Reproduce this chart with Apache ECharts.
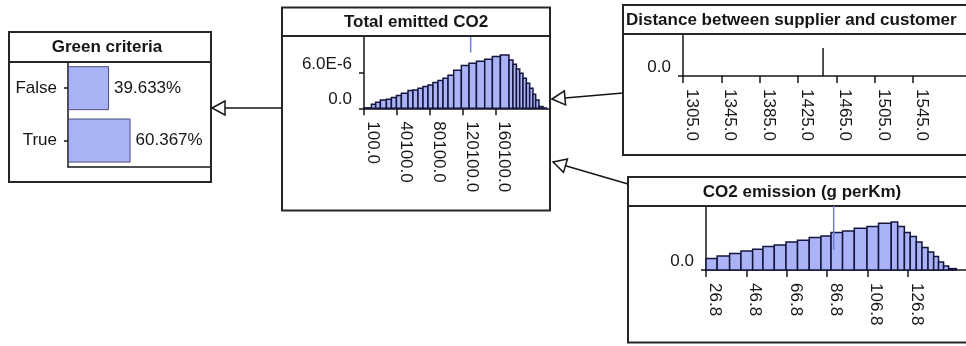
<!DOCTYPE html>
<html>
<head>
<meta charset="utf-8">
<script src="https://cdn.jsdelivr.net/npm/echarts@6/dist/echarts.min.js"></script>
<style>
  html, body { margin: 0; padding: 0; background: #fff; }
  #main { width: 966px; height: 346px; }
</style>
</head>
<body>
<div id="main"></div>
<script>
// ---- Green criteria (discrete node) ----
const greenStates = ['False', 'True'];
const greenPercent = [39.633, 60.367];

// ---- Total emitted CO2 (continuous node, histogram bins) ----
const totalCo2Edges = [100, 9100, 14300, 20000, 27300, 33400, 39500, 45500, 53600, 59600,
  65700, 71800, 77900, 83900, 90000, 96100, 102200, 109100, 118400, 127700,
  136700, 146800, 156100, 165800, 176300, 181100, 185300, 189300, 193300, 197400,
  201400, 205400, 208700, 212700, 217600, 221700];
const totalCo2Density = [0.08e-6, 0.67e-6, 1.01e-6, 1.40e-6, 1.52e-6, 1.80e-6, 2.14e-6, 2.53e-6, 2.98e-6, 3.08e-6,
  3.37e-6, 3.66e-6, 3.93e-6, 4.33e-6, 4.67e-6, 5.06e-6, 5.56e-6, 6.40e-6, 7.20e-6, 7.58e-6,
  7.92e-6, 8.26e-6, 8.71e-6, 8.98e-6, 8.14e-6, 7.41e-6, 6.62e-6, 5.90e-6, 5.06e-6, 4.21e-6,
  3.37e-6, 2.36e-6, 1.40e-6, 0.29e-6, 0.05e-6];
const totalCo2Ticks = [100, 40100, 80100, 120100, 160100];
const totalCo2DensityTicks = [0, 6e-6];
const totalCo2Mean = 129700;

// ---- Distance between supplier and customer (single value) ----
const distanceTicks = [1305, 1345, 1385, 1425, 1465, 1505, 1545];
const distanceValue = 1451;
const distanceMass = 0.68;

// ---- CO2 emission (g perKm) ----
const co2KmEdges = [26.8, 32.3, 38.5, 44.1, 49.9, 55.0, 60.6, 66.4, 72.1, 77.9,
  83.7, 88.7, 94.4, 100.2, 106.5, 112.2, 118.5, 121.7, 125.0, 127.9,
  130.9, 133.7, 136.7, 139.5, 141.9, 144.4, 146.9, 150.7];
const co2KmDensity = [0.0057, 0.0070, 0.0082, 0.0095, 0.0104, 0.0117, 0.0125, 0.0140, 0.0149, 0.0162,
  0.0170, 0.0187, 0.0195, 0.0209, 0.0217, 0.0234, 0.0240, 0.0217, 0.0187, 0.0167,
  0.0140, 0.0112, 0.0090, 0.0067, 0.0040, 0.0020, 0.0007];
const co2KmTicks = [26.8, 46.8, 66.8, 86.8, 106.8, 126.8];
const co2KmMean = 90.0;

const FONT = 'Liberation Sans, Arial, sans-serif';
const INK = '#161616';
const BAR_FILL = '#a9b3f5';
const BAR_EDGE = '#15163d';

function bins(edges, vals) {
  return vals.map((v, i) => [edges[i], edges[i + 1], v]);
}

function renderBin(params, api) {
  const a = api.coord([api.value(0), 0]);
  const b = api.coord([api.value(1), api.value(2)]);
  return {
    type: 'rect',
    shape: { x: a[0], y: b[1], width: b[0] - a[0], height: a[1] - b[1] },
    style: { fill: BAR_FILL, stroke: BAR_EDGE, lineWidth: 1.5 }
  };
}

function lineRenderer(color, width) {
  return function (params, api) {
    const a = api.coord([api.value(0), api.value(1)]);
    const b = api.coord([api.value(0), api.value(2)]);
    return {
      type: 'line',
      shape: { x1: a[0], y1: a[1], x2: b[0], y2: b[1] },
      style: { stroke: color, lineWidth: width }
    };
  };
}

function valueX(gridIndex, min, max, ticks) {
  return {
    type: 'value', gridIndex, min, max,
    splitLine: { show: false },
    axisLine: { show: true, onZero: false, lineStyle: { color: INK, width: 1.5 } },
    axisTick: { show: true, customValues: ticks, length: 7, lineStyle: { color: INK, width: 1.5 } },
    axisLabel: {
      customValues: ticks, rotate: -90, margin: 13, align: 'left', verticalAlign: 'bottom',
      formatter: v => Number(v).toFixed(1), fontSize: 17, color: INK, fontFamily: FONT
    }
  };
}

function valueY(gridIndex, min, max, ticks, fmt) {
  return {
    type: 'value', gridIndex, min, max,
    splitLine: { show: false },
    axisLine: { show: true, onZero: false, lineStyle: { color: INK, width: 1.5 } },
    axisTick: { show: true, customValues: ticks, length: 5, lineStyle: { color: INK, width: 1.5 } },
    axisLabel: {
      customValues: ticks, margin: 12, verticalAlign: 'bottom',
      formatter: fmt, fontSize: 17, color: INK, fontFamily: FONT
    }
  };
}

function arrow(x1, y1, x2, y2) {
  const dx = x2 - x1, dy = y2 - y1, L = Math.hypot(dx, dy);
  const ux = dx / L, uy = dy / L, len = 13, hw = 7;
  const bx = x2 - ux * len, by = y2 - uy * len;
  return [
    { type: 'line', shape: { x1, y1, x2: bx, y2: by }, style: { stroke: INK, lineWidth: 1.5 }, z: 5 },
    { type: 'polygon', shape: { points: [[x2, y2], [bx - uy * hw, by + ux * hw], [bx + uy * hw, by - ux * hw]] },
      style: { fill: '#fff', stroke: INK, lineWidth: 1.5 }, z: 5 }
  ];
}

function nodeBox(x, y, w, h, sepY) {
  return [
    { type: 'rect', shape: { x, y, width: w, height: h }, style: { fill: 'none', stroke: '#262626', lineWidth: 2 }, z: 1 },
    { type: 'line', shape: { x1: x, y1: sepY, x2: x + w, y2: sepY }, style: { stroke: '#262626', lineWidth: 2 }, z: 1 }
  ];
}

function nodeTitle(text, x, y, align) {
  return {
    type: 'text', x, y, z: 6,
    style: { text, fill: INK, font: 'bold 17px ' + FONT, align: align, verticalAlign: 'middle' }
  };
}

const graphics = [].concat(
  nodeBox(9, 32, 202, 150, 62),
  nodeBox(282, 7.5, 268, 203, 36),
  nodeBox(623, 5, 360, 150, 34),
  nodeBox(628, 177, 350, 165.5, 206),
  [
    nodeTitle('Green criteria', 107, 47, 'center'),
    nodeTitle('Total emitted CO2', 416, 22, 'center'),
    nodeTitle('Distance between supplier and customer', 626, 20, 'left'),
    nodeTitle('CO2 emission (g perKm)', 802, 192, 'center')
  ],
  arrow(282, 108, 212, 108),
  arrow(623, 93, 552, 99),
  arrow(628, 184, 553, 162)
);

const chart = echarts.init(document.getElementById('main'), null, { renderer: 'canvas' });
chart.setOption({
  backgroundColor: '#fff',
  animation: false,
  grid: [
    { left: 68, top: 62, width: 143, height: 104.7 },
    { left: 364, top: 37, width: 186, height: 71.3 },
    { left: 683, top: 35, width: 283, height: 41 },
    { left: 706, top: 206, width: 260, height: 64 }
  ],
  xAxis: [
    {
      type: 'value', gridIndex: 0, min: 0, max: 138,
      splitLine: { show: false },
      axisLine: { show: true, lineStyle: { color: INK, width: 1.5 } },
      axisTick: { show: false }, axisLabel: { show: false }
    },
    valueX(1, 100, 226100, totalCo2Ticks),
    valueX(2, 1305, 1600, distanceTicks),
    valueX(3, 26.8, 155.5, co2KmTicks)
  ],
  yAxis: [
    {
      type: 'category', gridIndex: 0, data: greenStates, inverse: true,
      axisLine: { show: true, lineStyle: { color: INK, width: 1.5 } },
      axisTick: { show: true, alignWithLabel: true, length: 4, lineStyle: { color: INK, width: 1.5 } },
      axisLabel: { margin: 11, fontSize: 17, color: INK, fontFamily: FONT }
    },
    valueY(1, 0, 12e-6, totalCo2DensityTicks, v => v === 0 ? '0.0' : (v / 1e-6).toFixed(1) + 'E-6'),
    valueY(2, 0, 1, [0], () => '0.0'),
    valueY(3, 0, 0.032, [0], () => '0.0')
  ],
  series: [
    {
      type: 'bar', xAxisIndex: 0, yAxisIndex: 0, data: greenPercent, barWidth: 44,
      itemStyle: { color: BAR_FILL, borderColor: '#4a4d78', borderWidth: 1 },
      label: {
        show: true, position: 'right', distance: 5, color: INK, fontSize: 17, fontFamily: FONT,
        formatter: p => p.value.toFixed(3) + '%'
      }
    },
    {
      type: 'custom', xAxisIndex: 1, yAxisIndex: 1, renderItem: renderBin,
      encode: { x: [0, 1], y: 2 }, data: bins(totalCo2Edges, totalCo2Density)
    },
    {
      type: 'custom', xAxisIndex: 1, yAxisIndex: 1, renderItem: lineRenderer('#6f7ed6', 1.5),
      encode: { x: 0, y: [1, 2] }, data: [[totalCo2Mean, 12e-6, 9.4e-6]], z: 3
    },
    {
      type: 'custom', xAxisIndex: 2, yAxisIndex: 2, renderItem: lineRenderer(INK, 1.5),
      encode: { x: 0, y: [1, 2] }, data: [[distanceValue, 0, distanceMass]]
    },
    {
      type: 'custom', xAxisIndex: 3, yAxisIndex: 3, renderItem: renderBin,
      encode: { x: [0, 1], y: 2 }, data: bins(co2KmEdges, co2KmDensity)
    },
    {
      type: 'custom', xAxisIndex: 3, yAxisIndex: 3, renderItem: lineRenderer('#6f7ed6', 1.5),
      encode: { x: 0, y: [1, 2] }, data: [[co2KmMean, 0.032, 0.010]], z: 3
    }
  ],
  graphic: { elements: graphics }
});
</script>
</body>
</html>
